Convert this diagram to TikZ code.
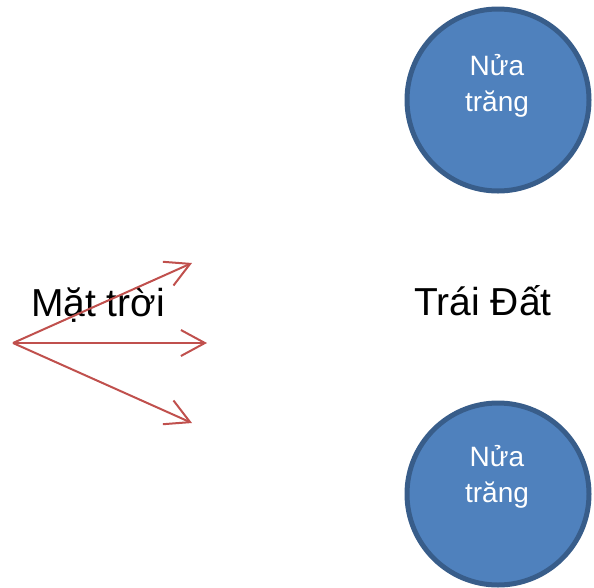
\documentclass[tikz,border=0pt]{standalone}
\usepackage{fontspec}
\setmainfont{Liberation Sans}
\usetikzlibrary{arrows.meta}
\definecolor{moonfill}{HTML}{4F81BD}
\definecolor{moonline}{HTML}{385D8A}
\definecolor{rayred}{HTML}{C0504D}

\begin{document}
\begin{tikzpicture}[x=1pt, y=-1pt,
    moon/.style={circle, draw=moonline, line width=5pt, fill=moonfill, minimum size=182pt, inner sep=0pt},
    moontext/.style={text=white, font=\fontsize{28}{36}\selectfont, align=center, inner sep=0pt},
    bigtext/.style={font=\fontsize{39}{44}\selectfont, anchor=base, inner sep=0pt},
    ray/.style={draw=rayred, line width=2pt, -{Straight Barb[length=24pt,width=26pt]}}]

    \useasboundingbox (0,0) rectangle (594,587);

    % the two half moons
    \node[moon] (topmoon) at (498,100) {};
    \node[moontext] (toplabel) at (497,86) {Nửa\\trăng};
    \node[moon] (bottommoon) at (498,494) {};
    \node[moontext] (bottomlabel) at (497,477) {Nửa\\trăng};

    % sun and earth
    \node[bigtext] (sun) at (98,316) {Mặt trời};
    \node[bigtext] (earth) at (483,315) {Trái Đất};

    % rays of the sun
    \coordinate (source) at (13,343);
    \coordinate (rayup) at (192,263);
    \coordinate (raymid) at (207,343);
    \coordinate (raydown) at (192,423);
    \draw[ray] (source) -- (rayup);
    \draw[ray] (source) -- (raymid);
    \draw[ray] (source) -- (raydown);
\end{tikzpicture}
\end{document}
